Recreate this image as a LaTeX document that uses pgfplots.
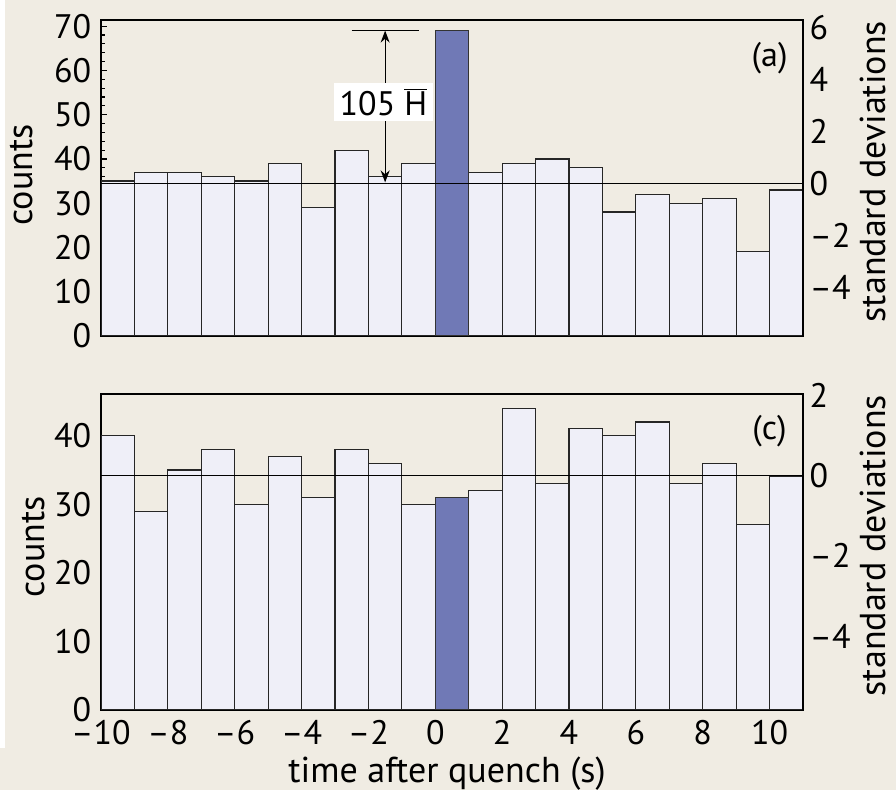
\documentclass[border=0pt]{standalone}
\usepackage{fontspec}
\setmainfont{PT Sans}
\usepackage{pgfplots}
\pgfplotsset{compat=1.18}
\usetikzlibrary{arrows.meta}
\definecolor{bg}{HTML}{F0ECE3}
\definecolor{barlight}{HTML}{EFEFF8}
\definecolor{barblue}{HTML}{7079B6}
\begin{document}
\fontsize{17}{20}\selectfont
\begin{tikzpicture}
\fill[bg] (0,0) rectangle (448pt,395pt);
\fill[white] (0,21pt) rectangle (2.5pt,395pt);
\useasboundingbox (0,0) rectangle (448pt,395pt);
\pgfplotsset{
 common/.style={scale only axis, width=351pt, height=158pt, xmin=-10, xmax=11,
   /pgf/number format/assume math mode=true,
   axis line style={line width=0.8pt},
   tick style={black, line width=0.6pt},
   tick align=inside, major tick length=3pt, minor tick length=2pt,
   yticklabel style={xshift=1pt},
   label style={font=\fontsize{18}{20}\selectfont, inner sep=0pt}},
 bars/.style={ybar, bar width=1, fill=barlight, draw=black!85, line width=0.6pt},
 bluebar/.style={ybar, bar width=1, fill=barblue, draw=black!80, line width=0.6pt},
 right/.style={scale only axis, width=351pt, height=158pt, xmin=-10, xmax=11,
   axis x line=none, axis y line*=right, axis line style={line width=0.8pt},
   major tick length=0pt, yticklabel style={anchor=west, xshift=-2.5pt},
   ylabel={standard deviations},
   ylabel style={at={(axis description cs:1.118,0.52)}, anchor=base, font=\fontsize{18}{20}\selectfont, inner sep=0pt}},
}
% ---------- top panel (a) ----------
\begin{axis}[common, at={(50.5pt,227pt)}, anchor=south west,
  ymin=0, ymax=71.4, ytick={0,10,...,70}, minor y tick num=4, xtick=\empty,
  ytick pos=left,
  ylabel={counts}, ylabel style={at={(axis description cs:-0.097,0.51)}, anchor=base}]
\addplot[bars] coordinates {
(-9.5,35) (-8.5,37) (-7.5,37) (-6.5,36) (-5.5,35) (-4.5,39) (-3.5,29) (-2.5,42)
(-1.5,36) (-0.5,39) (1.5,37) (2.5,39) (3.5,40) (4.5,38) (5.5,28) (6.5,32)
(7.5,30) (8.5,31) (9.5,19) (10.5,33)};
\addplot[bluebar] coordinates {(0.5,69)};
\addplot[black, line width=0.6pt] coordinates {(-10,34.5) (11,34.5)};
\addplot[black, line width=0.6pt] coordinates {(-2.5,69) (-0.5,69)};
\addplot[black, line width=0.6pt, {Stealth[length=6pt,width=4.5pt]}-{Stealth[length=6pt,width=4.5pt]}] coordinates {(-1.5,69) (-1.5,34.7)};
\node[fill=white, inner xsep=3pt, inner ysep=2.5pt] at (axis cs:-1.55,52.9) {105 $\overline{\mbox{H}}$};
\node at (axis cs:10,62.8) {(a)};
\end{axis}
\begin{axis}[right, at={(50.5pt,227pt)}, anchor=south west,
  ymin=-5.877, ymax=6.286, ytick={-4,-2,0,2,4,6},
  yticklabels={\textendash4,\textendash2,0,2,4,6}]
\end{axis}
% ---------- bottom panel (c) ----------
\begin{axis}[common, at={(50.5pt,40pt)}, anchor=south west,
  ymin=0, ymax=46.08, ytick={0,10,...,40}, minor y tick num=4,
  ytick pos=left,
  xtick={-10,-8,...,10},
  xticklabels={\textendash10,\textendash8,\textendash6,\textendash4,\textendash2,0,2,4,6,8,10},
  xtick style={draw=none},
  xticklabel style={anchor=base, yshift=-17.5pt},
  xlabel={time after quench (s)},
  xlabel style={at={(axis description cs:0.493,-0.231)}, anchor=base},
  ylabel={counts}, ylabel style={at={(axis description cs:-0.080,0.516)}, anchor=base}]
\addplot[bars] coordinates {
(-9.5,40) (-8.5,29) (-7.5,35) (-6.5,38) (-5.5,30) (-4.5,37) (-3.5,31) (-2.5,38)
(-1.5,36) (-0.5,30) (1.5,32) (2.5,44) (3.5,33) (4.5,41) (5.5,40) (6.5,42)
(7.5,33) (8.5,36) (9.5,27) (10.5,34)};
\addplot[bluebar] coordinates {(0.5,31)};
\addplot[black, line width=0.6pt] coordinates {(-10,34.2) (11,34.2)};
\node at (axis cs:10,40.6) {(c)};
\end{axis}
\begin{axis}[right, at={(50.5pt,40pt)}, anchor=south west,
  ymin=-5.846, ymax=2.031, ytick={-4,-2,0,2},
  yticklabels={\textendash4,\textendash2,0,2}]
\end{axis}
\end{tikzpicture}
\end{document}
